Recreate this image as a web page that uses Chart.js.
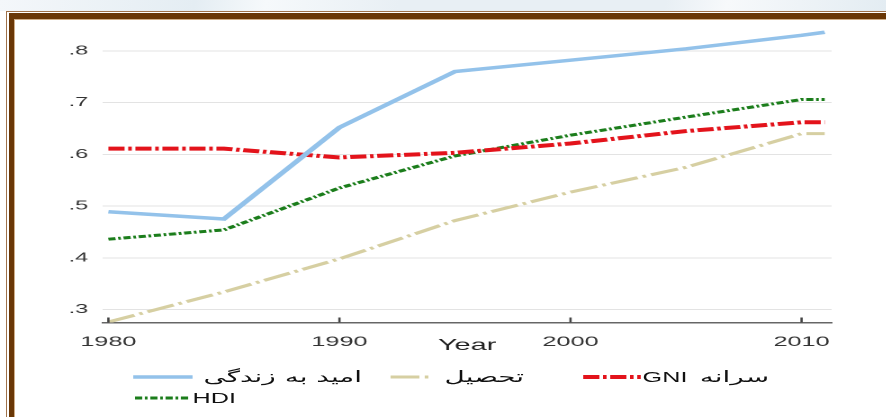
<!DOCTYPE html>
<html>
<head>
<meta charset="utf-8">
<script src="https://cdn.jsdelivr.net/npm/chart.js@4.4.1/dist/chart.umd.min.js"></script>
<style>
  html, body { margin: 0; padding: 0; background: #fff; }
  body { width: 886px; height: 417px; position: relative; overflow: hidden; }
  .band { position: absolute; left: 0; top: 0; width: 886px; height: 11px;
          background: linear-gradient(100deg, #f4f7fa 0%, #e4edf3 22%, #f6f9fb 30%, #e8eff4 45%, #e8eff4 75%, #f7f9fb 82%, #e3ecf2 100%); }
  .fr { position: absolute; }
  #stretch { position: absolute; left: 0; top: 0; width: 492px; height: 417px;
             transform: scaleX(1.8); transform-origin: 0 0; }
  #chartBox { position: absolute; left: 0; top: 0; width: 492px; height: 417px; }
  .lg-line { position: absolute; overflow: visible; }
  .lg-text { position: absolute; white-space: pre; font: 14px 'Liberation Sans', Arial, sans-serif;
             color: #111; line-height: 18px; }
  .lg-text .ar { font: 15.5px 'DejaVu Sans', sans-serif; }
</style>
</head>
<body>
<div class="band"></div>
<div class="fr" style="left:6px;top:11px;width:880px;height:1px;background:#a0724a"></div>
<div class="fr" style="left:6px;top:11px;width:1px;height:406px;background:#a0724a"></div>
<div class="fr" style="left:9px;top:13px;width:877px;height:6px;background:#6a3706"></div>
<div class="fr" style="left:9px;top:13px;width:5px;height:404px;background:#6a3706"></div>
<div class="fr" style="left:14px;top:19px;width:872px;height:1px;background:#cfae88"></div>
<div class="fr" style="left:14px;top:19px;width:1px;height:398px;background:#cfae88"></div>

<div id="stretch">
  <div id="chartBox"><canvas id="chart"></canvas></div>
  <div id="legend"></div>
</div>

<script>
// HDI components, 1980-2011
const years        = [1980, 1985, 1990, 1995, 2000, 2005, 2010, 2011];
const lifeExp      = [0.489, 0.475, 0.652, 0.760, 0.782, 0.804, 0.830, 0.836];
const education    = [0.276, 0.334, 0.398, 0.472, 0.527, 0.575, 0.640, 0.640];
const gniPerCapita = [0.611, 0.611, 0.594, 0.603, 0.621, 0.645, 0.662, 0.662];
const hdi          = [0.436, 0.454, 0.535, 0.597, 0.637, 0.672, 0.706, 0.706];

const seriesNames = ['امید به زندگی', 'تحصیل', 'GNI سرانه', 'HDI'];
const xTickValues = [1980, 1990, 2000, 2010];
const yTickValues = [0.3, 0.4, 0.5, 0.6, 0.7, 0.8];
const yTickLabels = ['.3', '.4', '.5', '.6', '.7', '.8'];
const xTitle = 'Year';

const styles = [
  { color: '#93c2ea', width: 3.5, dash: [] },
  { color: '#d6cfa2', width: 3,   dash: [16, 3, 2, 3] },
  { color: '#e3131b', width: 4,   dash: [9, 2, 2, 2] },
  { color: '#1b7d1b', width: 3,   dash: [4, 1.5, 1.5, 1.5] },
];

const seriesValues = [lifeExp, education, gniPerCapita, hdi];

const datasets = seriesValues.map((vals, i) => ({
  label: seriesNames[i],
  data: years.map((yr, j) => ({ x: yr, y: vals[j] })),
  borderColor: styles[i].color,
  borderWidth: styles[i].width,
  borderDash: styles[i].dash,
  pointRadius: 0,
  tension: 0,
  fill: false,
}));

// small upward tick marks on the x axis
const innerTicks = {
  id: 'innerTicks',
  afterDatasetsDraw(chart) {
    const { ctx, scales: { x }, chartArea } = chart;
    ctx.save();
    ctx.strokeStyle = '#444';
    ctx.lineWidth = 1.3;
    xTickValues.forEach(v => {
      const px = x.getPixelForValue(v);
      ctx.beginPath();
      ctx.moveTo(px, chartArea.bottom);
      ctx.lineTo(px, chartArea.bottom - 5);
      ctx.stroke();
    });
    ctx.restore();
  }
};

const tickFont = { family: "'Liberation Sans', Arial, sans-serif", size: 14 };

new Chart(document.getElementById('chart'), {
  type: 'line',
  data: { datasets },
  plugins: [innerTicks],
  options: {
    responsive: true,
    maintainAspectRatio: false,
    animation: false,
    devicePixelRatio: 2,
    layout: { padding: { top: 25, right: 30, bottom: 62, left: 0 } },
    plugins: { legend: { display: false }, tooltip: { enabled: false } },
    scales: {
      x: {
        type: 'linear',
        min: 1979.75,
        max: 2011.3,
        afterBuildTicks: s => { s.ticks = xTickValues.map(v => ({ value: v })); },
        afterFit: s => { s.height = 32.5; },
        ticks: { font: tickFont, color: '#333', padding: 3, maxRotation: 0, autoSkip: false,
                 callback: v => String(v) },
        grid: { display: false },
        border: { display: true, color: '#666', width: 1.5 },
        title: { display: true, text: xTitle, color: '#222', padding: 0,
                 font: { family: "'Liberation Sans', Arial, sans-serif", size: 16 } },
      },
      y: {
        min: 0.275,
        max: 0.85,
        afterBuildTicks: s => { s.ticks = yTickValues.map(v => ({ value: v })); },
        afterFit: s => { s.width = 57; },
        ticks: { font: { family: "'Liberation Sans', Arial, sans-serif", size: 13 }, color: '#333', padding: 8,
                 callback: (v, i) => yTickLabels[i] },
        grid: { color: '#e3e3e3', lineWidth: 1, drawTicks: false },
        border: { display: false },
      }
    }
  }
});

// legend, laid out like the original (inner, unstretched coordinates)
const legendSlots = [
  { lx: 74,  lw: 33, tx: 113, cy: 377 },
  { lx: 217, lw: 22, tx: 247, cy: 377 },
  { lx: 324, lw: 32, tx: 357, cy: 377 },
  { lx: 75,  lw: 31, tx: 107, cy: 398 },
];
const legend = document.getElementById('legend');
seriesNames.forEach((name, i) => {
  const s = styles[i], p = legendSlots[i];
  const svg = document.createElementNS('http://www.w3.org/2000/svg', 'svg');
  svg.setAttribute('class', 'lg-line');
  svg.setAttribute('width', p.lw);
  svg.setAttribute('height', 8);
  svg.style.left = p.lx + 'px';
  svg.style.top = (p.cy - 4) + 'px';
  const ln = document.createElementNS('http://www.w3.org/2000/svg', 'line');
  ln.setAttribute('x1', 0); ln.setAttribute('x2', p.lw);
  ln.setAttribute('y1', 4); ln.setAttribute('y2', 4);
  ln.setAttribute('stroke', s.color);
  ln.setAttribute('stroke-width', s.width);
  if (s.dash.length) ln.setAttribute('stroke-dasharray', s.dash.join(' '));
  svg.appendChild(ln);
  legend.appendChild(svg);

  const t = document.createElement('span');
  t.className = 'lg-text';
  t.style.left = p.tx + 'px';
  t.style.top = (p.cy - 9) + 'px';
  // Arabic runs get their own font; Latin runs stay in the sans face
  name.split(/([\u0600-\u06FF][\u0600-\u06FF\s]*)/).filter(Boolean).forEach(run => {
    const r = document.createElement('span');
    r.textContent = run;
    if (/[\u0600-\u06FF]/.test(run)) {
      r.className = 'ar';
      if (run !== name) r.style.marginLeft = '3px';
    }
    t.appendChild(r);
  });
  legend.appendChild(t);
});
</script>
</body>
</html>
